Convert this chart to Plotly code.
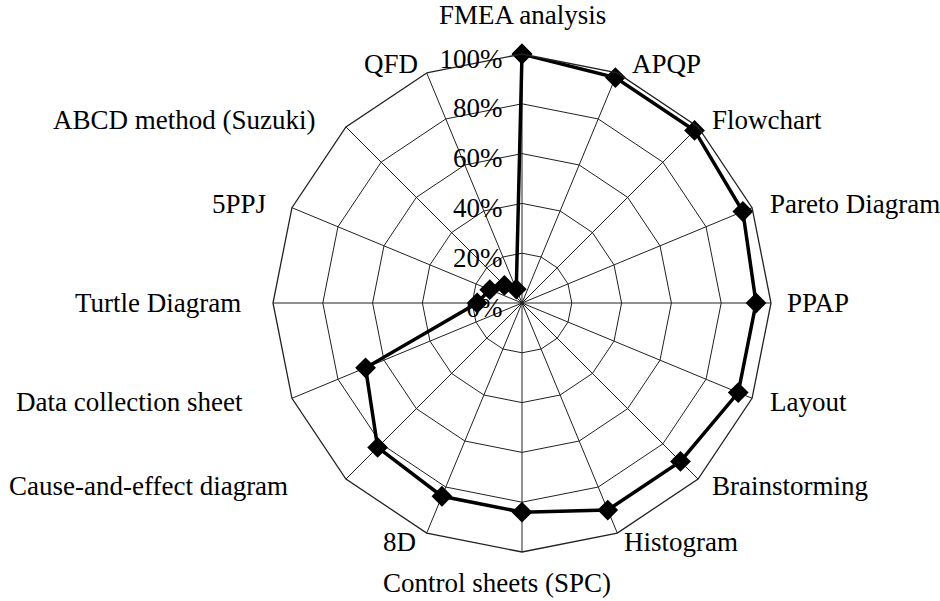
import math
import plotly.graph_objects as go

# Quality tools and their share of use (fraction of respondents)
tools = [
    "FMEA analysis", "APQP", "Flowchart", "Pareto Diagram", "PPAP", "Layout",
    "Brainstorming", "Histogram", "Control sheets (SPC)", "8D",
    "Cause-and-effect diagram", "Data collection sheet", "Turtle Diagram",
    "5PPJ", "ABCD method (Suzuki)", "QFD",
]
usage = [1.00, 0.98, 0.98, 0.96, 0.94, 0.94, 0.90, 0.90, 0.84, 0.84,
         0.82, 0.68, 0.18, 0.14, 0.10, 0.06]
radial_ticks = [0, 0.2, 0.4, 0.6, 0.8, 1.0]
radial_labels = ["0%", "20%", "40%", "60%", "80%", "100%"]

# Page geometry (pixels): centre and outer radius of the radar
W, H = 940, 601
CX, CY, R = 522, 303, 249
# Distance (px) between the outer ring and each category label
label_pad = [39, 13, 12, 16, 14, 16, 12, 5, 31, 9, 56, 47, 30, 24, 28, 7]
bottom_shift = -25  # horizontal nudge of the bottom label

FONT = "Liberation Serif, Times New Roman, serif"
FS = 27

fig = go.Figure()
fig.add_trace(go.Scatterpolar(
    r=usage + usage[:1],
    theta=tools + tools[:1],
    mode="lines+markers",
    line=dict(color="black", width=3.5),
    marker=dict(symbol="diamond", size=16, color="black"),
    showlegend=False,
    cliponaxis=False,
))

# Category labels around the outer ring
annotations = []
n = len(tools)
for i, (name, pad) in enumerate(zip(tools, label_pad)):
    a = 2 * math.pi * i / n
    s, c = math.sin(a), math.cos(a)
    vx, vy = CX + R * s, CY - R * c
    if abs(s) < 0.1:
        if c > 0:
            px, py, xa = vx, vy - pad, "center"
        else:
            px, py, xa = vx + bottom_shift, vy + pad, "center"
    elif s > 0:
        px, py, xa = vx + pad, vy - 10 * c, "left"
    else:
        px, py, xa = vx - pad, vy - 10 * c, "right"
    annotations.append(dict(
        text=name, x=px / W, y=1 - py / H, xref="paper", yref="paper",
        xanchor=xa, yanchor="middle", showarrow=False,
        font=dict(family=FONT, size=FS, color="black"),
    ))

fig.update_layout(
    width=W, height=H,
    margin=dict(l=0, r=0, t=0, b=0),
    paper_bgcolor="white",
    font=dict(family=FONT, size=FS, color="black"),
    annotations=annotations,
    polar=dict(
        domain=dict(x=[(CX - R) / W, (CX + R) / W],
                    y=[1 - (CY + R) / H, 1 - (CY - R) / H]),
        bgcolor="white",
        gridshape="linear",
        angularaxis=dict(
            direction="clockwise", rotation=90,
            showgrid=True, gridcolor="#222", gridwidth=1.3,
            showline=True, linecolor="#222", linewidth=1.3,
            ticks="", showticklabels=False,
        ),
        radialaxis=dict(
            range=[0, 1], angle=90, side="counterclockwise",
            tickvals=radial_ticks, ticktext=radial_labels,
            showgrid=True, gridcolor="#222", gridwidth=1.3,
            showline=False, ticks="",
            tickfont=dict(family=FONT, size=FS),
        ),
    ),
)

fig.write_html("out.html")
